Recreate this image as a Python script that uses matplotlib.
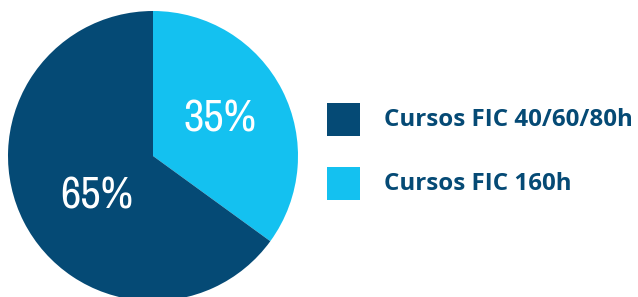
import matplotlib
matplotlib.use("Agg")
import matplotlib.pyplot as plt
from matplotlib.patches import Rectangle
from matplotlib import font_manager

categories = ["Cursos FIC 160h", "Cursos FIC 40/60/80h"]
values = [35, 65]
colors = ["#14C1F0", "#054A75"]
pct_labels = ["35%", "65%"]
legend_order = [1, 0]

W, H = 638, 297
fig = plt.figure(figsize=(W / 100, H / 100), dpi=100)

cx, cy, r = 153, 156, 145
ax = fig.add_axes([(cx - r) / W, (H - cy - r) / H, 2 * r / W, 2 * r / H])
ax.pie(values, colors=colors, startangle=90, counterclock=False, radius=1,
       wedgeprops=dict(linewidth=0))
ax.set_xlim(-1, 1)
ax.set_ylim(-1, 1)
ax.set_aspect("equal")
ax.axis("off")

names = sorted({f.name for f in font_manager.fontManager.ttflist})
cond = [n for n in names if "Condensed" in n or "Narrow" in n]
fam = cond[0] if cond else "DejaVu Sans"

label_pos = [(0.46, 0.25), (-0.39, -0.28)]
for (x, y), t in zip(label_pos, pct_labels):
    ax.text(x, y, t, ha="center", va="center", color="white", fontsize=32,
            family=fam, fontstretch="condensed")

for i, idx in enumerate(legend_order):
    ytop = 103 + i * 64
    fig.patches.append(Rectangle((327 / W, (H - ytop - 33) / H), 33 / W, 33 / H,
                                 transform=fig.transFigure, facecolor=colors[idx],
                                 edgecolor="none"))
    fig.text(384 / W, (H - ytop - 17) / H, categories[idx], ha="left", va="center",
             color="#054A75", fontsize=17.4, fontweight="bold", family="Open Sans")

fig.savefig("out.png", dpi=100)
